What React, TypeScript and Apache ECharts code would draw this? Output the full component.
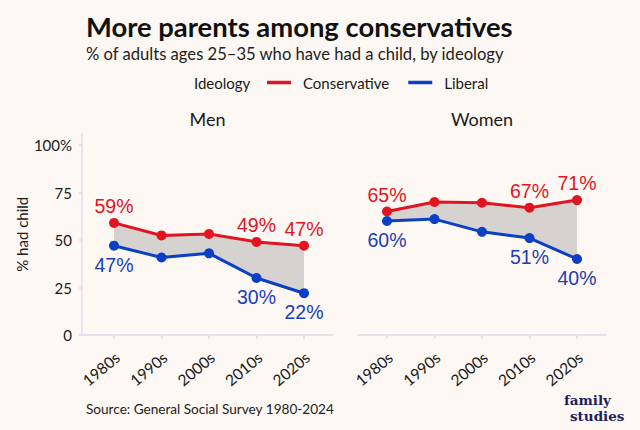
import React, { useEffect, useRef } from 'react';
import * as echarts from 'echarts';

const decades = ['1980s', '1990s', '2000s', '2010s', '2020s'];
const decadeIndex = [0, 1, 2, 3, 4];
const menConservative = [59, 52.4, 53.2, 49, 47];
const menLiberal = [47, 40.8, 43, 30, 22];
const womenConservative = [65, 70, 69.6, 67, 71];
const womenLiberal = [60, 61, 54.3, 51, 40];
const labeledIndices = [0, 3, 4];
const yTicks = [0, 25, 50, 75, 100];

const RED = '#e2141f';
const BLUE = '#0b3fc4';
const BLUE_TEXT = '#1a3db5';
const FILL = '#d5d2cf';
const BG = '#fdf8f3';
const AXIS = '#dcdce8';
const INK = '#1a1a1a';
const FONT = 'Lato';
const LABEL_FONT = '"Liberation Sans", Arial, sans-serif';
const LOGO_FONT = '"DejaVu Serif", serif';

function lineSeries(name: string, values: number[], color: string, gridIdx: number, above: boolean) {
  return {
    type: 'line',
    name,
    xAxisIndex: gridIdx,
    yAxisIndex: gridIdx,
    data: values.map((v, i) => ({ value: [decadeIndex[i], v], label: { show: labeledIndices.includes(i) } })),
    symbol: 'circle',
    symbolSize: 10,
    itemStyle: { color },
    lineStyle: { color, width: 3 },
    label: {
      show: false,
      position: above ? 'top' : 'bottom',
      distance: above ? 2 : 4,
      color: above ? RED : BLUE_TEXT,
      fontFamily: LABEL_FONT,
      fontSize: 19.5,
      formatter: (p: any) => Math.round(p.value[1]) + '%',
    },
    z: 3,
  };
}

function bandSeries(lower: number[], upper: number[], gridIdx: number) {
  return {
    type: 'custom',
    xAxisIndex: gridIdx,
    yAxisIndex: gridIdx,
    data: lower.map((v, i) => [decadeIndex[i], v, upper[i]]),
    encode: { x: 0, y: [1, 2] },
    silent: true,
    z: 1,
    renderItem: (params: any, api: any) => {
      if (params.dataIndex !== 0) return null;
      const pts: number[][] = [];
      for (let i = 0; i < lower.length; i++) pts.push(api.coord([decadeIndex[i], lower[i]]));
      for (let i = upper.length - 1; i >= 0; i--) pts.push(api.coord([decadeIndex[i], upper[i]]));
      return { type: 'polygon', shape: { points: pts }, style: { fill: FILL } };
    },
  };
}

function xAxis(gridIndex: number, min: number, max: number) {
  return {
    type: 'value',
    gridIndex,
    min,
    max,
    splitLine: { show: false },
    axisLine: { show: true, onZero: false, lineStyle: { color: AXIS, width: 1.5 } },
    axisTick: { show: true, customValues: decadeIndex, length: 4, lineStyle: { color: AXIS, width: 1.5 } },
    axisLabel: {
      customValues: decadeIndex.map((v) => v + 0.07),
      formatter: (v: number) => decades[Math.round(v)],
      rotate: 40,
      margin: 20,
      fontFamily: FONT,
      fontSize: 15.5,
      color: INK,
    },
  };
}

function yAxis(gridIndex: number, visible: boolean) {
  return {
    type: 'value',
    gridIndex,
    min: 0,
    max: 106,
    splitLine: { show: false },
    axisLine: { show: visible, onZero: false, lineStyle: { color: AXIS, width: 1.5 } },
    axisTick: { show: visible, customValues: yTicks, length: 3, lineStyle: { color: AXIS, width: 1.5 } },
    axisLabel: {
      show: visible,
      customValues: yTicks,
      formatter: (v: number) => (v === 100 ? '100%' : String(v)),
      margin: 10,
      fontFamily: FONT,
      fontSize: 15,
      color: INK,
    },
    name: visible ? '% had child' : '',
    nameLocation: 'middle',
    nameGap: 46,
    nameTextStyle: { fontFamily: FONT, fontSize: 15, color: INK },
  };
}

export default function App() {
  const ref = useRef<HTMLDivElement>(null);
  useEffect(() => {
    document.body.style.margin = '0';
    document.body.style.background = BG;
    const chart = echarts.init(ref.current!, null, { renderer: 'svg' });
    const txt = (text: string, x: number, y: number, font: string, fill: string, align = 'left') => ({
      type: 'text',
      x,
      y,
      silent: true,
      style: { text, font, fill, align, verticalAlign: 'middle' },
    });
    chart.setOption({
      animation: false,
      backgroundColor: BG,
      grid: [
        { left: 82, top: 133.6, width: 251, height: 201.4 },
        { left: 358, top: 133.6, width: 248, height: 201.4 },
      ],
      xAxis: [xAxis(0, -0.674, 4.61), xAxis(1, -0.61, 4.61)],
      yAxis: [yAxis(0, true), yAxis(1, false)],
      legend: {
        data: ['Conservative', 'Liberal'],
        left: 267,
        top: 75,
        padding: 0,
        icon: 'rect',
        itemWidth: 24,
        itemHeight: 3.5,
        itemGap: 19,
        selectedMode: false,
        textStyle: { fontFamily: FONT, fontSize: 15, color: INK, padding: [0, 0, 0, 7] },
      },
      graphic: [
        txt('More parents among conservatives', 86, 26, `bold 27.4px ${FONT}`, '#111'),
        txt('% of adults ages 25–35 who have had a child, by ideology', 86, 53.5, `16.6px ${FONT}`, '#222'),
        txt('Ideology', 194, 82.5, `15px ${FONT}`, INK),
        txt('Men', 207.5, 119, `18px ${FONT}`, INK, 'center'),
        txt('Women', 482, 119, `18px ${FONT}`, INK, 'center'),
        txt('Source: General Social Survey 1980-2024', 86, 409, `13.6px ${FONT}`, '#222'),
        txt('family', 564, 399.5, `bold 13.5px ${LOGO_FONT}`, '#1d1f5e'),
        txt('studies', 570, 415.5, `bold 13.5px ${LOGO_FONT}`, '#1d1f5e'),
      ],
      series: [
        bandSeries(menLiberal, menConservative, 0),
        bandSeries(womenLiberal, womenConservative, 1),
        lineSeries('Conservative', menConservative, RED, 0, true),
        lineSeries('Liberal', menLiberal, BLUE, 0, false),
        lineSeries('Conservative', womenConservative, RED, 1, true),
        lineSeries('Liberal', womenLiberal, BLUE, 1, false),
      ],
    });
    return () => chart.dispose();
  }, []);
  return <div ref={ref} style={{ width: 640, height: 430 }} />;
}
